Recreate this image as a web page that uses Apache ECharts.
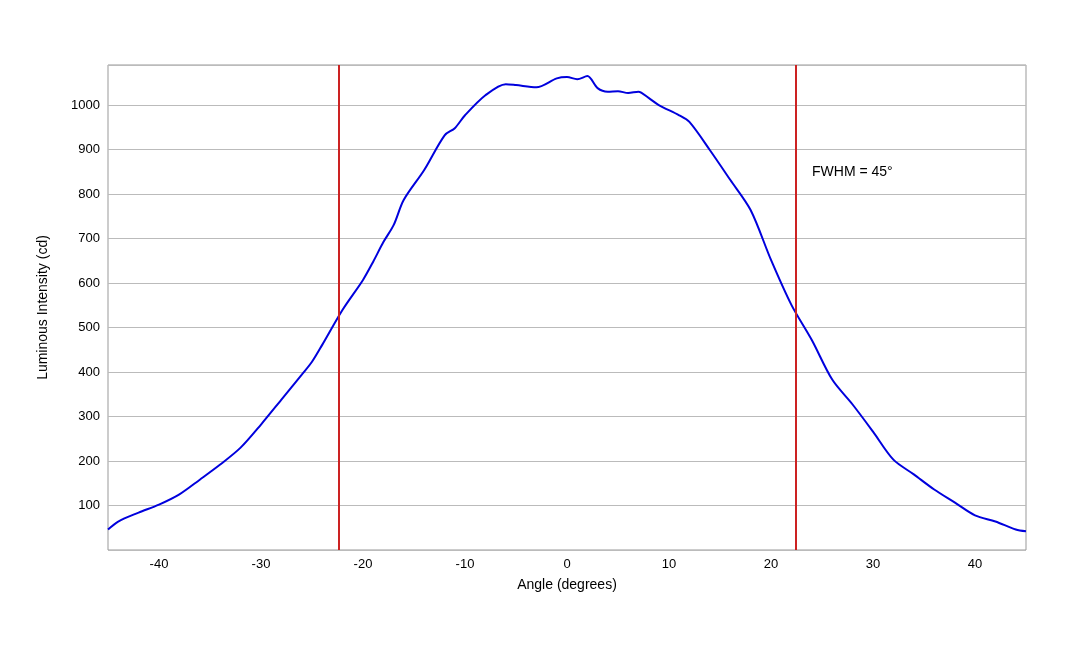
<!DOCTYPE html>
<html><head><meta charset="utf-8">
<script src="https://cdn.jsdelivr.net/npm/echarts@6/dist/echarts.min.js"></script>
<style>html,body{margin:0;background:#fff}#c{width:1080px;height:648px}</style>
</head><body><div id="c"></div>
<script>
var angles = [-45,-44,-42,-40,-38,-36,-34,-32,-30,-28,-26,-25,-24,-22,-20,-19,-18,-17,-16,-14,-12,-11,-10,-8,-6,-5,-3,-1,0,1,2,3,4,5,6,7,8,9,11,12,14,16,18,20,22,24,26,28,30,32,34,36,38,40,42,44,45];
var intensity = [46,64,84,102,125,158,192,230,282,338,394,423,461,540,607,648,692,730,787,854,932,948,977,1022,1047,1045,1040,1060,1063,1058,1065,1038,1030,1031,1027,1030,1016,1000,977,962,899,832,764,652,551,472,383,327,266,203,170,136,107,78,64,46,42];
var xTicks = [-40,-30,-20,-10,0,10,20,30,40];
var fwhmEdges = [-22.4, 22.4];

var chart = echarts.init(document.getElementById('c'));
var font = 'Liberation Sans, Arial, sans-serif';
chart.setOption({
  animation: false,
  grid: {left: 108, right: 54, top: 65, bottom: 98, show: true, borderColor: '#999', borderWidth: 1},
  xAxis: {
    type: 'value', min: -45, max: 45,
    name: 'Angle (degrees)', nameLocation: 'middle', nameGap: 28,
    nameTextStyle: {fontFamily: font, fontSize: 14, color: '#000'},
    axisLabel: {fontFamily: font, fontSize: 13, color: '#000', customValues: xTicks},
    axisLine: {show: false}, axisTick: {show: false}, splitLine: {show: false}
  },
  yAxis: {
    type: 'value', min: 0, max: 1090, interval: 100,
    name: 'Luminous Intensity (cd)', nameLocation: 'middle', nameGap: 58,
    nameTextStyle: {fontFamily: font, fontSize: 14, color: '#000'},
    axisLabel: {fontFamily: font, fontSize: 13, color: '#000', showMinLabel: false, showMaxLabel: false,
      formatter: function (v) { return String(v); }},
    axisLine: {show: false}, axisTick: {show: false},
    splitLine: {lineStyle: {color: '#bbb', width: 1}}
  },
  series: [{
    type: 'line', smooth: 0.3, symbol: 'none',
    data: angles.map(function (a, i) { return [a, intensity[i]]; }),
    lineStyle: {color: '#0000dd', width: 2},
    markLine: {
      silent: true, symbol: 'none', label: {show: false},
      lineStyle: {color: '#cc2222', width: 2, type: 'solid'},
      data: fwhmEdges.map(function (x) { return {xAxis: x}; })
    }
  }],
  graphic: [{type: 'text', left: 812, top: 165, style: {text: 'FWHM = 45°', font: '14px ' + font, fill: '#000'}}]
});
</script></body></html>
